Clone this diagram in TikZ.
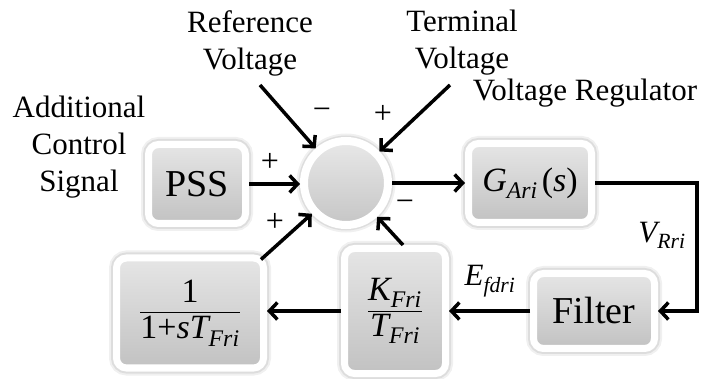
\documentclass[tikz,border=0pt]{standalone}
\usepackage{amsmath}
\usepackage{fontspec}
\setmainfont{Liberation Serif}
\usetikzlibrary{arrows.meta,calc}
\begin{document}
\begin{tikzpicture}[x=1pt,y=-1pt,
  halo/.style={preaction={draw=black, draw opacity=0.06, line width=15pt},
               preaction={draw=black, draw opacity=0.08, line width=11pt}},
  blk/.style={halo, rectangle, rounded corners=10pt, inner sep=0pt, draw=white,
              line width=7pt, top color=gray!20, bottom color=gray!48},
  sumst/.style={halo, circle, minimum size=84pt, inner sep=0pt, draw=white,
              line width=8pt, top color=gray!18, bottom color=gray!45},
  boxfont/.style={font=\fontsize{38}{44}\selectfont},
  mathfont/.style={font=\fontsize{34}{40}\selectfont},
  lbl/.style={font=\fontsize{31}{37}\selectfont, align=center, inner sep=0pt},
  sgn/.style={font=\fontsize{32}{36}\selectfont, inner sep=0pt},
  arr/.style={line width=3.5pt, -{Straight Barb[length=8pt,width=17pt]}}]
\useasboundingbox (0,0) rectangle (707,379);

% blocks
\node[sumst] (sum) at (346,183) {};
\node[blk, boxfont, minimum width=97pt, minimum height=79pt] (pss) at (197,184) {PSS};
\node[blk, mathfont, minimum width=123pt, minimum height=79pt] (g) at (530,183)
  {$\textit{G}_{\textit{Ari}}\,\textrm{(}\textit{s}\textrm{)}$};
\node[blk, boxfont, minimum width=121pt, minimum height=75pt] (filter) at (594,311) {Filter};
\node[blk, mathfont, minimum width=101pt, minimum height=125pt] (kf) at (395,311)
  {$\dfrac{\textit{K}_{\textit{Fri}}}{\textit{T}_{\textit{Fri}}}$};
\node[blk, mathfont, minimum width=147pt, minimum height=110pt] (lag) at (190,313)
  {$\dfrac{\textrm{1}}{\textrm{1+}\textit{sT}_{\textit{Fri}}}$};

% labels
\node[lbl] (reflbl) at (250,43) {Reference\\Voltage};
\node[lbl] (termlbl) at (462,43) {Terminal\\Voltage};
\node[lbl] (acs) at (79,147) {Additional\\Control\\Signal};
\node[lbl] (vreg) at (585,93) {Voltage Regulator};
\node[lbl] (vrri) at (662,235) {$\textit{V}_{\textit{Rri}}$};
\node[lbl] (efd) at (490,281) {$\textit{E}_{\textit{fdri}}$};

% signs
\node[sgn] (sref) at (322,114) {−};
\node[sgn] (sterm) at (383,114) {+};
\node[sgn] (spss) at (270,162) {+};
\node[sgn] (slag) at (275,222) {+};
\node[sgn] (skf) at (405,206) {−};

% free ends
\coordinate (ra) at (260,85);
\coordinate (ta) at (450,85);
\coordinate (vr) at (697,311);

% connectors
\draw[arr] (pss) -- (pss -| sum.west);
\draw[arr] (ra) -- (sum);
\draw[arr] (ta) -- (sum);
\draw[arr] (sum) -- (g);
\draw[arr] (g.east) -| (vr) -- (filter.east);
\draw[arr] (filter) -- (kf);
\draw[arr] (kf) -- (kf -| lag.east);
\draw[arr] ($(lag.north east)+(-6,5)$) -- (sum);
\draw[arr] ([xshift=8pt]kf.north) -- (sum);
\end{tikzpicture}
\end{document}
